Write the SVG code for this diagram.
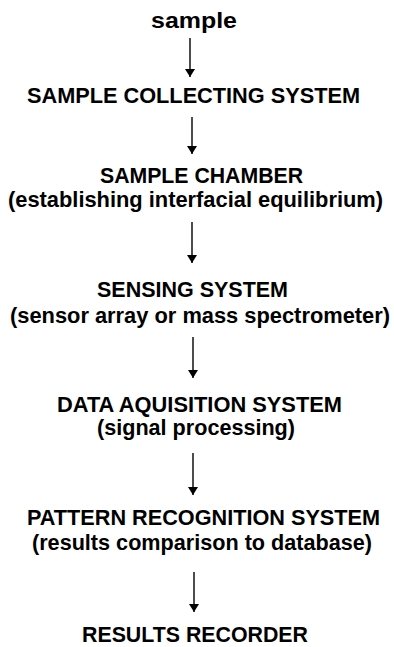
<svg xmlns="http://www.w3.org/2000/svg" width="394" height="647" viewBox="0 0 394 647">
<style>
.t{font-family:"Liberation Sans",Arial,sans-serif;font-weight:bold;fill:#000;font-size:22px;}
.c line{stroke:#000;stroke-width:1.4;}
</style>
<defs>
<marker id="ah" viewBox="0 0 8 10" refX="8" refY="5" markerWidth="8" markerHeight="10" markerUnits="userSpaceOnUse" orient="auto">
<path d="M0,0 L8,5 L0,10 Z" fill="#000"/>
</marker>
</defs>
<rect width="394" height="647" fill="#fff"/>
<g id="n0"><text class="t" x="151" y="28" textLength="86" lengthAdjust="spacingAndGlyphs">sample</text></g>
<g id="n1"><text class="t" x="27" y="103" textLength="333" lengthAdjust="spacingAndGlyphs">SAMPLE COLLECTING SYSTEM</text></g>
<g id="n2"><text class="t" x="100" y="183" textLength="203" lengthAdjust="spacingAndGlyphs">SAMPLE CHAMBER</text>
<text class="t" x="8" y="207" textLength="375" lengthAdjust="spacingAndGlyphs">(establishing  interfacial equilibrium)</text></g>
<g id="n3"><text class="t" x="97" y="297" textLength="191" lengthAdjust="spacingAndGlyphs">SENSING SYSTEM</text>
<text class="t" x="10" y="323" textLength="380" lengthAdjust="spacingAndGlyphs">(sensor array or mass spectrometer)</text></g>
<g id="n4"><text class="t" x="57" y="412" textLength="285" lengthAdjust="spacingAndGlyphs">DATA AQUISITION SYSTEM</text>
<text class="t" x="97" y="435" textLength="198" lengthAdjust="spacingAndGlyphs">(signal processing)</text></g>
<g id="n5"><text class="t" x="27" y="525" textLength="353" lengthAdjust="spacingAndGlyphs">PATTERN RECOGNITION SYSTEM</text>
<text class="t" x="32" y="550" textLength="340" lengthAdjust="spacingAndGlyphs">(results comparison to database)</text></g>
<g id="n6"><text class="t" x="82" y="642" textLength="226" lengthAdjust="spacingAndGlyphs">RESULTS RECORDER</text></g>
<g id="connectors" class="c">
<line x1="190" y1="38" x2="190" y2="77" marker-end="url(#ah)"/>
<line x1="192" y1="117" x2="192" y2="154" marker-end="url(#ah)"/>
<line x1="192" y1="222" x2="192" y2="263" marker-end="url(#ah)"/>
<line x1="193" y1="337" x2="193" y2="378" marker-end="url(#ah)"/>
<line x1="193" y1="453" x2="193" y2="495" marker-end="url(#ah)"/>
<line x1="194" y1="572" x2="194" y2="612" marker-end="url(#ah)"/>
</g>
</svg>
